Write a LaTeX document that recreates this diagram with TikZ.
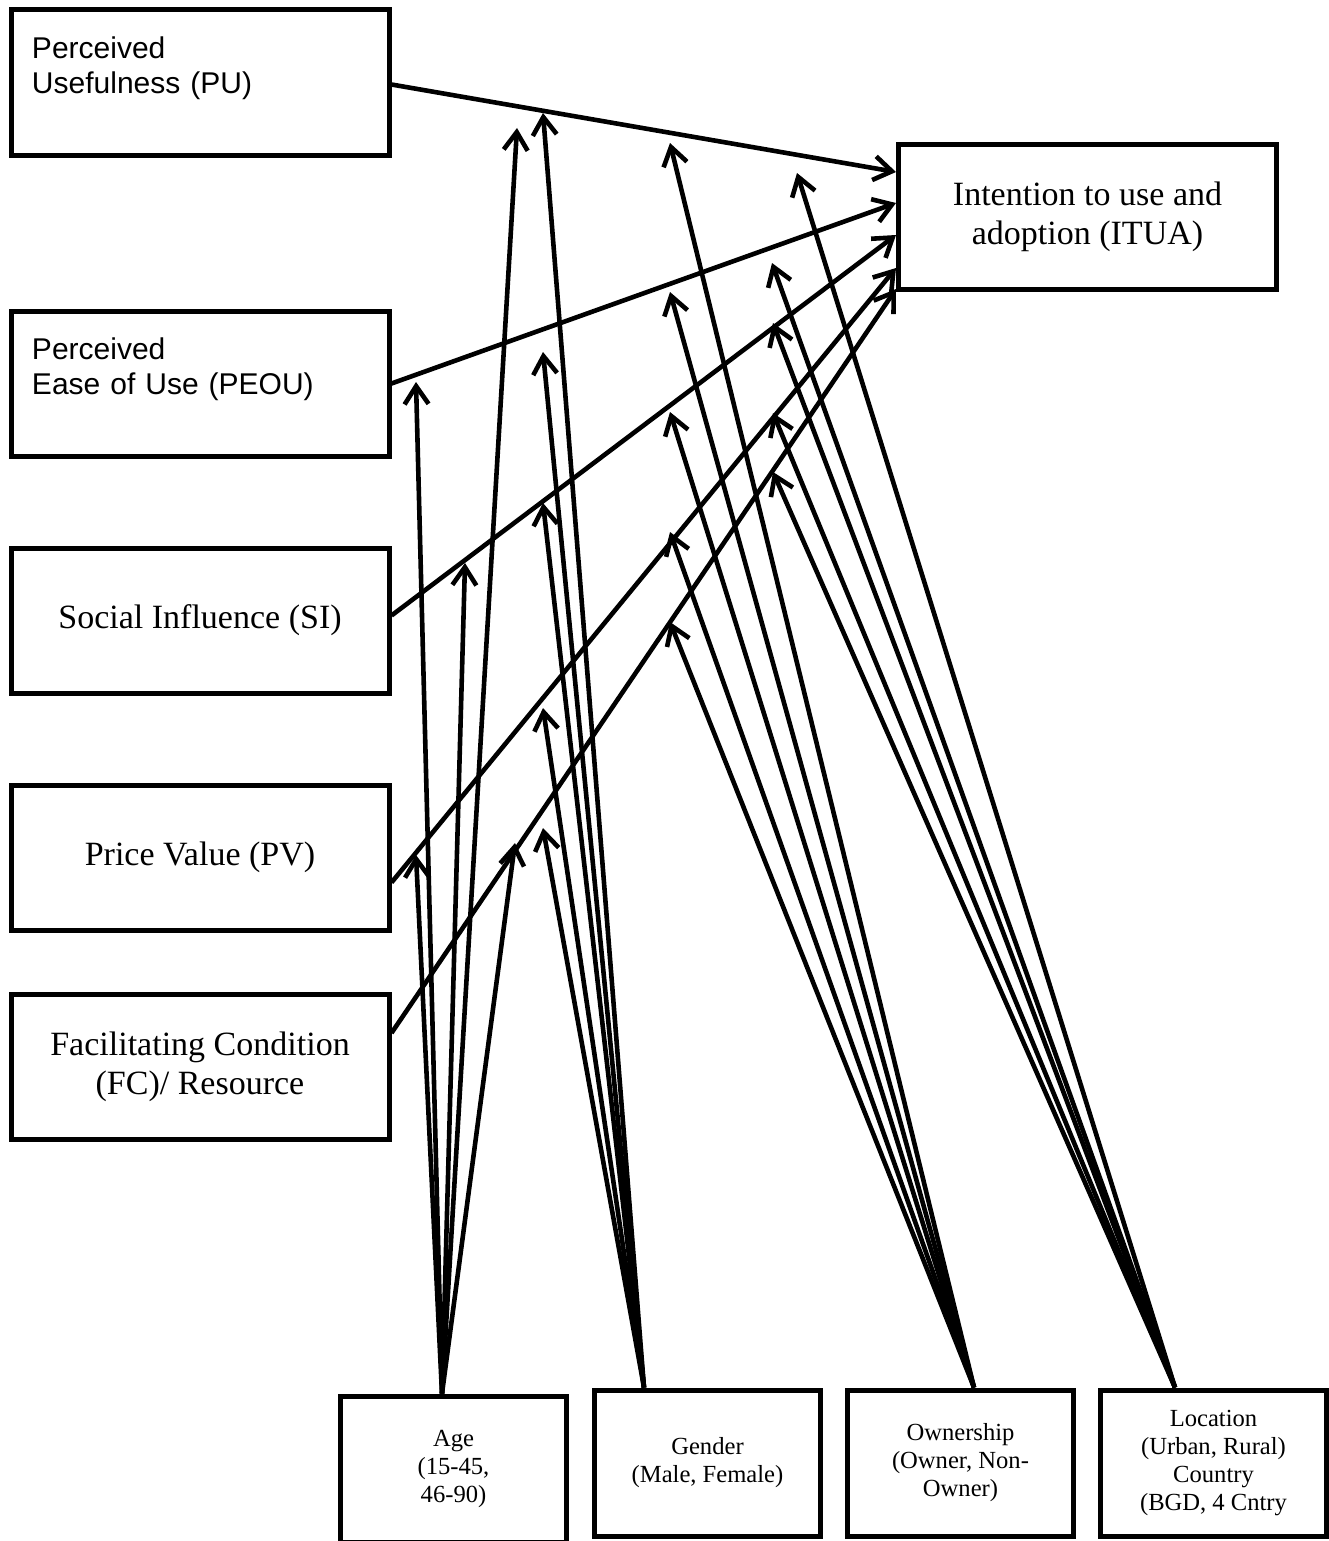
\documentclass[tikz,border=0pt]{standalone}
\usepackage{fontspec}
\setmainfont{Liberation Serif}
\newfontfamily\arialfont{Liberation Sans}
\usepackage{tikz}
\usetikzlibrary{arrows.meta}
\definecolor{ink}{HTML}{000000}

\begin{document}
\begin{tikzpicture}[x=0.5pt,y=-0.5pt,
  box/.style={draw=ink, line width=2.5pt, minimum width=189pt, minimum height=72.5pt,
    inner sep=0pt, align=center, font=\fontsize{17}{19.5}\selectfont},
  sansbox/.style={box, align=left, text width=168pt, font=\arialfont\fontsize{15}{17.5}\selectfont},
  modbox/.style={box, minimum width=113pt, minimum height=73pt, font=\fontsize{12.3}{14}\selectfont},
  link/.style={draw=ink, line width=2.3pt, -{Straight Barb[length=9pt,width=12pt]}}]
\useasboundingbox (0,0) rectangle (1328,1541);
% constructs
\node[sansbox] (pu) at (200,82.5) {Perceived\\Usefulness (PU)\\\mbox{}};
\node[sansbox] (peou) at (200,383.5) {Perceived\\Ease of Use (PEOU)\\\mbox{}};
\node[box] (si) at (200,620.5) {Social Influence (SI)};
\node[box] (pv) at (200,857.5) {Price Value (PV)};
\node[box] (fc) at (200,1067) {Facilitating Condition\\(FC)/ Resource};
\node[box] (itua) at (1087.5,217) {Intention to use and\\adoption (ITUA)};
% moderators
\node[modbox] (age) at (453.5,1469) {Age\\(15-45,\\46-90)};
\node[modbox] (gender) at (707.5,1463) {Gender\\(Male, Female)};
\node[modbox] (owner) at (960.5,1463) {Ownership\\(Owner, Non-\\Owner)};
\node[modbox] (loc) at (1213.5,1463) {Location\\(Urban, Rural)\\Country\\(BGD, 4 Cntry};

% constructs -> ITUA
\foreach \src/\dy/\ty in {pu/-1/22.5, peou/0/7, si/2.5/-9, pv/-12.5/-25.5, fc/17/-36}{
  \draw[link] ([yshift=\dy pt]\src.east) -- ([yshift=\ty pt]itua.west);
}

% moderator arrows
\coordinate (ageS) at ([xshift=-5.75pt]age.north);
\coordinate (genS) at ([xshift=-31.75pt]gender.north);
\coordinate (ownS) at ([xshift=6.75pt]owner.north);
\coordinate (locS) at ([xshift=-19.25pt]loc.north);
\foreach \x/\y [count=\i] in {517/128, 416/382, 465/563, 416/855, 515/843}{
  \coordinate (a\i) at (\x,\y);
  \draw[link] (ageS) -- (a\i);
}
\foreach \y [count=\i] in {113, 352, 503, 708, 828}{
  \coordinate (g\i) at (543,\y);
  \draw[link] (genS) -- (g\i);
}
\foreach \y [count=\i] in {143, 292, 412, 532, 622}{
  \coordinate (o\i) at (670,\y);
  \draw[link] (ownS) -- (o\i);
}
\foreach \x/\y [count=\i] in {797/173, 772/263, 773/323, 773/413, 773/472}{
  \coordinate (l\i) at (\x,\y);
  \draw[link] (locS) -- (l\i);
}
\end{tikzpicture}
\end{document}
